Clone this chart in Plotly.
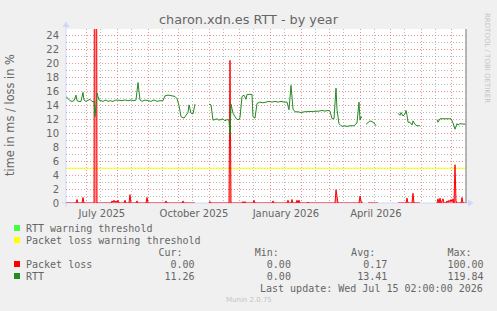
import plotly.graph_objects as go
import pandas as pd

# ---------------- data ----------------
START = pd.Timestamp("2025-06-10 02:00")
END = pd.Timestamp("2026-07-15 02:00")

# RTT in ms, x = days since START (None = no data)
rtt_day = [0, 2, 4, 6, 8, 10, 11, 13, 15, 17, 18, 20, 22, 24, 26, 28, 29, 31, 33, 35, 37,
           40, 42, 44, 47, 50, 53, 56, 59, 62, 65, 68, 70, 72, 74, 76, 79, 82, 85, 88, 91,
           94, 97, 99, 102, 106, 109, 111, 113, 115, 118, 120, 122, 123, 125, 127, 129,
           134,
           143, 145, 147, 149, 151, 153, 155, 157, 159, 161, 163, 164, 165, 167, 169, 171,
           173, 174, 176, 178, 180, 181, 184, 186, 187, 189, 191, 194, 197, 200, 203, 206,
           209, 212, 215, 218, 221, 223, 225, 227, 229, 232, 235, 238, 241, 244, 247, 250,
           253, 256, 259, 262, 264, 266, 268, 270, 271, 273, 275, 277, 279, 281, 284, 288,
           291, 293, 294, 295, 296, 297,
           300,
           302, 304, 306, 308, 310, 312,
           320,
           332, 334, 335, 337, 339, 340, 341, 342, 344, 346, 347, 349, 351, 354,
           362,
           371, 372, 374, 376, 379, 382, 385, 387, 388, 389, 391, 392, 394, 397, 400]
rtt_ms = [15.3, 15.0, 14.7, 14.6, 14.7, 15.5, 14.7, 14.6, 14.6, 15.9, 14.8, 14.6, 14.7, 14.9, 14.6, 14.6, 12.4, 15.8, 14.8, 14.7, 14.6,
          14.8, 14.6, 14.7, 14.6, 14.8, 14.7, 14.7, 14.8, 14.7, 14.8, 14.7, 14.8, 17.3, 14.8, 14.6, 14.8, 14.7, 14.6, 14.8, 14.6,
          14.7, 14.7, 15.4, 15.5, 15.4, 15.3, 15.0, 14.0, 12.4, 12.2, 12.6, 13.0, 14.1, 12.9, 12.8, 14.2,
          None,
          14.2, 14.1, 11.9, 12.0, 12.1, 11.9, 12.0, 12.1, 11.8, 12.0, 11.9, 9.8, 14.2, 12.9, 12.4, 12.0,
          12.0, 12.3, 15.3, 15.5, 14.9, 15.6, 15.6, 15.6, 12.4, 12.2, 14.3, 14.5, 14.4, 14.5, 14.6, 14.5,
          14.6, 14.5, 14.6, 14.5, 14.5, 13.4, 16.9, 13.5, 13.1, 13.1, 13.0, 13.1, 13.1, 13.2, 13.1, 13.2,
          13.2, 13.3, 13.2, 13.3, 13.2, 12.1, 12.1, 16.5, 13.4, 11.4, 11.1, 11.0, 11.1, 11.0, 11.1, 11.1,
          11.5, 14.5, 11.9, 12.4, 12.2, None,
          11.3,
          11.6, 11.8, 11.7, 11.5, 11.1, None,
          None,
          12.9, 12.6, 13.0, 12.5, 12.8, 13.3, 12.6, 11.6, 11.6, 11.2, 11.8, 11.3, 11.1, 11.1,
          None,
          12.0, 11.6, 12.1, 12.1, 12.1, 12.2, 12.1, 11.5, 11.1, 10.6, 11.4, 11.2, 11.4, 11.3, 11.3]

# Packet loss in %, x = days since START (None = no data)
loss_day = [0, 10, 11, 12, 16, 17, 18, 28, 29, 30, 31,
            45, 46, 47, 48, 49, 50, 51, 52, 53,
            58, 59, 60, 63, 64, 65, 70, 71, 72, 80, 81, 82,
            99, 100, 101, 116, 117, 118, 129, 134,
            143, 144, 145, 163, 164, 165, 176, 177, 178, 179, 180, 187, 188, 189, 206, 207, 208,
            221, 222, 223, 225, 226, 227, 230, 231, 232, 233, 234, 241, 242, 243, 263, 264, 265,
            269, 270, 271, 272, 293, 294, 295, 296, 297, 299, 302, 312, 322,
            332, 340, 341, 342, 346, 347, 348, 354, 364,
            371, 372, 373, 374, 375, 377, 378, 380, 381, 382, 383, 384, 385, 386, 387, 388, 389, 390,
            391, 395, 396, 397, 400]
loss_pct = [0, 0, 0.5, 0, 0, 0.8, 0, 0, 100, 100, 0,
            0, 0.3, 0.1, 0.4, 0.1, 0.3, 0.1, 0.4, 0,
            0, 0.4, 0, 0, 1.2, 0, 0, 0.3, 0, 0, 0.8, 0,
            0, 0.3, 0, 0, 0.3, 0, 0, None,
            0, 0.2, 0, 0, 20.5, 0, 0, 0.2, 0, 0.2, 0, 0, 0.4, 0, 0, 0.3, 0,
            0, 0.4, 0, 0, 0.5, 0, 0, 0.4, 0, 0.4, 0, 0, 0.1, 0, 0, 0.1, 0,
            0, 1.9, 0.4, 0, 0, 1.0, 0.3, 0, 0, None, 0, 0, None,
            0, 0, 0.7, 0, 0, 1.4, 0, 0, None,
            0, 0.6, 0, 0.7, 0, 0.6, 0, 0, 0.3, 0.1, 0.4, 0.2, 0.5, 0.2, 0.6, 0, 5.5, 0.3,
            0, 0, 0.8, 0, 0]

loss_warning = 5

month_labels = ["July 2025", "", "", "October 2025", "", "", "January 2026", "", "",
                "April 2026", "", "", ""]

legend_names = ["RTT warning threshold", "Packet loss warning threshold", "Packet loss", "RTT"]
legend_colors = ["#44FF44", "#FFFF00", "#FF0000", "#228B22"]
stat_heads = ["Cur:", "Min:", "Avg:", "Max:"]
loss_stats = ["0.00", "0.00", "0.17", "100.00"]
rtt_stats = ["11.26", "0.00", "13.41", "119.84"]
last_update = "Last update: Wed Jul 15 02:00:00 2026"

# ---------------- helpers ----------------
L, T, W, H = 66, 29, 400, 174
FIG_W, FIG_H = 497, 311


def px(x):
    return (x - L) / W


def py(y):
    return (T + H - y) / H


def to_dates(days):
    return [START + pd.Timedelta(days=d) for d in days]


FONT = "DejaVu Sans"
MONO = "DejaVu Sans Mono"
FC = "#666666"
WATER = "#C4C4C4"
AXIS = "#CFD6F8"

fig = go.Figure()

fig.add_trace(go.Scatter(x=[START, END], y=[loss_warning, loss_warning], mode="lines",
                         line=dict(color="#FFFF00", width=1), hoverinfo="skip"))
fig.add_trace(go.Scatter(x=to_dates(loss_day), y=loss_pct, mode="lines",
                         line=dict(color="#FF0000", width=1), fill="tozeroy",
                         fillcolor="rgba(255,0,0,0.45)", connectgaps=False, hoverinfo="skip"))
fig.add_trace(go.Scatter(x=to_dates(rtt_day), y=rtt_ms, mode="lines",
                         line=dict(color="#228B22", width=1), connectgaps=False,
                         hoverinfo="skip"))

month_starts = list(pd.date_range("2025-07-01", "2026-07-01", freq="MS"))
mid_months = list(pd.date_range("2025-06-15", "2026-07-15", freq="MS") + pd.Timedelta(days=14))

fig.update_layout(
    width=FIG_W, height=FIG_H,
    margin=dict(l=L, r=FIG_W - L - W, t=T, b=FIG_H - T - H, pad=0),
    paper_bgcolor="#F0F0F0", plot_bgcolor="#FFFFFF",
    showlegend=False, hovermode=False,
    xaxis=dict(type="date", range=[START, END], showline=False, zeroline=False,
               tickmode="array", tickvals=month_starts, ticktext=month_labels,
               ticklabelshift=15, ticks="", ticklabelstandoff=3,
               showgrid=True, gridcolor="rgba(222,79,79,0.6)", griddash="1px,2px", gridwidth=1,
               tickfont=dict(family=FONT, size=10, color=FC),
               minor=dict(tickmode="array", tickvals=mid_months, showgrid=True,
                          gridcolor="rgba(143,143,143,0.6)", griddash="1px,2px", gridwidth=1)),
    yaxis=dict(range=[0, 25], showline=False, zeroline=False,
               tickmode="linear", tick0=0, dtick=2, ticks="", ticklabelstandoff=6,
               showgrid=True, gridcolor="rgba(222,79,79,0.6)", griddash="1px,2px", gridwidth=1,
               tickfont=dict(family=FONT, size=10, color=FC),
               minor=dict(tickmode="linear", tick0=0, dtick=1, showgrid=True,
                          gridcolor="rgba(143,143,143,0.6)", griddash="1px,2px", gridwidth=1)),
)

shapes = []
# axes + arrows
shapes.append(dict(type="line", xref="paper", yref="paper", x0=px(62), x1=px(470), y0=py(203), y1=py(203),
                   line=dict(color=AXIS, width=1), layer="between"))
shapes.append(dict(type="line", xref="paper", yref="paper", x0=px(66), x1=px(66), y0=py(207), y1=py(25),
                   line=dict(color=AXIS, width=1), layer="between"))
shapes.append(dict(type="path", xref="paper", yref="paper",
                   path=f"M {px(468)},{py(199.5)} L {px(468)},{py(206.5)} L {px(473.5)},{py(203)} Z",
                   fillcolor=AXIS, line=dict(width=0)))
shapes.append(dict(type="path", xref="paper", yref="paper",
                   path=f"M {px(62.5)},{py(27)} L {px(69.5)},{py(27)} L {px(66)},{py(21.5)} Z",
                   fillcolor=AXIS, line=dict(width=0)))
# right edge marker
shapes.append(dict(type="line", xref="paper", yref="paper", x0=px(466), x1=px(466), y0=py(203), y1=py(29),
                   line=dict(color="#A0A0A0", width=1.5)))

annotations = []


def text(s, x, y, size, family=FONT, color=FC, xanchor="left", angle=0):
    annotations.append(dict(text=s, xref="paper", yref="paper", x=px(x), y=py(y),
                            xanchor=xanchor, yanchor="middle", showarrow=False,
                            textangle=angle, borderpad=0, borderwidth=0,
                            font=dict(family=family, size=size, color=color)))


text("charon.xdn.es RTT - by year", 248.5, 19.5, 12.8, xanchor="center")
text("time in ms / loss in %", 10, 115, 11.4, xanchor="center", angle=-90)
text("RRDTOOL / TOBI OETIKER", 487, 58, 7, color=WATER, xanchor="center", angle=90)
text("Munin 2.0.75", 248.5, 300, 7, color=WATER, xanchor="center")

rows_y = [228, 240, 252, 264, 276, 288]
sq = [(legend_colors[0], rows_y[0]), (legend_colors[1], rows_y[1]),
      (legend_colors[2], rows_y[3]), (legend_colors[3], rows_y[4])]
for col, yy in sq:
    shapes.append(dict(type="rect", xref="paper", yref="paper", x0=px(14), x1=px(20),
                       y0=py(yy + 3), y1=py(yy - 3), fillcolor=col, line=dict(width=0)))

text(legend_names[0], 26, rows_y[0], 10, family=MONO)
text(legend_names[1], 26, rows_y[1], 10, family=MONO)
head = " " * 22 + (" " * 12).join(stat_heads)
text(head.replace(" ", "&nbsp;"), 26, rows_y[2], 10, family=MONO)
row1 = legend_names[2].ljust(12) + "".join(v.rjust(16) for v in loss_stats)
row2 = legend_names[3].ljust(12) + "".join(v.rjust(16) for v in rtt_stats)
text(row1.replace(" ", "&nbsp;"), 26, rows_y[3], 10, family=MONO)
text(row2.replace(" ", "&nbsp;"), 26, rows_y[4], 10, family=MONO)
text(last_update, 483, rows_y[5], 10, family=MONO, xanchor="right")

fig.update_layout(shapes=shapes, annotations=annotations)
fig.write_html("out.html")
